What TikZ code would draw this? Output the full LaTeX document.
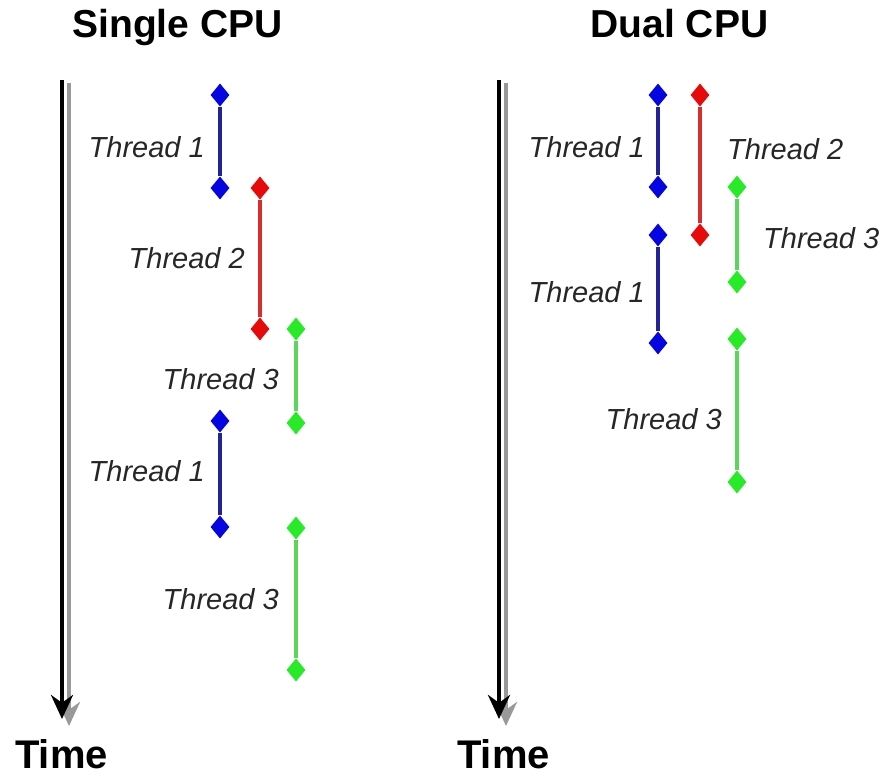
\documentclass[tikz,border=0pt]{standalone}
\usepackage{fontspec}
\setmainfont{Liberation Sans}
\usetikzlibrary{shapes.geometric,arrows.meta}
\definecolor{tblue}{RGB}{5,5,225}
\definecolor{tred}{RGB}{230,10,10}
\definecolor{tgreen}{RGB}{40,235,40}
\definecolor{lblue}{RGB}{35,35,150}
\definecolor{lred}{RGB}{215,45,45}
\definecolor{lgreen}{RGB}{90,215,90}
\tikzset{
  mark1/.style={diamond,fill=#1,draw=none,minimum width=19pt,minimum height=23pt,inner sep=0pt},
  span/.style={draw=#1,line width=3.6pt},
  lbl/.style={font=\fontsize{29}{29}\selectfont\itshape,text=black!85,inner sep=0pt},
  title/.style={font=\fontsize{39}{39}\selectfont\bfseries,inner sep=0pt,anchor=base},
  timelbl/.style={font=\fontsize{40}{40}\selectfont\bfseries,inner sep=0pt,anchor=base west},
  axis/.style={line width=4.5pt,-{Stealth[length=24pt,width=22pt]}},
}
\begin{document}
\begin{tikzpicture}[x=1pt,y=-1pt]
\useasboundingbox (0,0) rectangle (889,776);

% headings
\node[title] (h1) at (177.5,38) {Single CPU};
\node[title] (h2) at (679.5,38) {Dual CPU};

% time axes with soft grey shadow
\coordinate (a1s) at (69,83); \coordinate (a1e) at (69,726);
\coordinate (a2s) at (506,83); \coordinate (a2e) at (506,726);
\draw[axis,draw=black!40,fill=black!40] (a1s) -- (a1e);
\draw[axis,draw=black!40,fill=black!40] (a2s) -- (a2e);
\coordinate (b1s) at (62,80); \coordinate (b1e) at (62,719);
\coordinate (b2s) at (499,80); \coordinate (b2e) at (499,719);
\draw[axis] (b1s) -- (b1e);
\draw[axis] (b2s) -- (b2e);
\node[timelbl] (t1) at (15,768) {Time};
\node[timelbl] (t2) at (457,768) {Time};

% single CPU
\node[mark1=tblue] (s1a) at (220,95) {};
\node[mark1=tblue] (s1b) at (220,188) {};
\draw[span=lblue] (s1a) -- (s1b);
\node[lbl,anchor=east] at (205,147) {Thread 1};

\node[mark1=tred] (s2a) at (260,188) {};
\node[mark1=tred] (s2b) at (260,329) {};
\draw[span=lred] (s2a) -- (s2b);
\node[lbl,anchor=east] at (245,258) {Thread 2};

\node[mark1=tgreen] (s3a) at (296,329) {};
\node[mark1=tgreen] (s3b) at (296,423) {};
\draw[span=lgreen] (s3a) -- (s3b);
\node[lbl,anchor=east] at (279,379) {Thread 3};

\node[mark1=tblue] (s4a) at (220,421) {};
\node[mark1=tblue] (s4b) at (220,527) {};
\draw[span=lblue] (s4a) -- (s4b);
\node[lbl,anchor=east] at (205,471) {Thread 1};

\node[mark1=tgreen] (s5a) at (296,528) {};
\node[mark1=tgreen] (s5b) at (296,670) {};
\draw[span=lgreen] (s5a) -- (s5b);
\node[lbl,anchor=east] at (279,599) {Thread 3};

% dual CPU
\node[mark1=tblue] (d1a) at (658,95) {};
\node[mark1=tblue] (d1b) at (658,187) {};
\draw[span=lblue] (d1a) -- (d1b);
\node[lbl,anchor=east] at (645,147) {Thread 1};

\node[mark1=tred] (d2a) at (700,95) {};
\node[mark1=tred] (d2b) at (700,235) {};
\draw[span=lred] (d2a) -- (d2b);
\node[lbl,anchor=west] at (727,149) {Thread 2};

\node[mark1=tgreen] (d3a) at (737,187) {};
\node[mark1=tgreen] (d3b) at (737,282) {};
\draw[span=lgreen] (d3a) -- (d3b);
\node[lbl,anchor=west] at (763,238) {Thread 3};

\node[mark1=tblue] (d4a) at (658,235) {};
\node[mark1=tblue] (d4b) at (658,343) {};
\draw[span=lblue] (d4a) -- (d4b);
\node[lbl,anchor=east] at (645,292) {Thread 1};

\node[mark1=tgreen] (d5a) at (737,339) {};
\node[mark1=tgreen] (d5b) at (737,482) {};
\draw[span=lgreen] (d5a) -- (d5b);
\node[lbl,anchor=east] at (722,419) {Thread 3};
\end{tikzpicture}
\end{document}
